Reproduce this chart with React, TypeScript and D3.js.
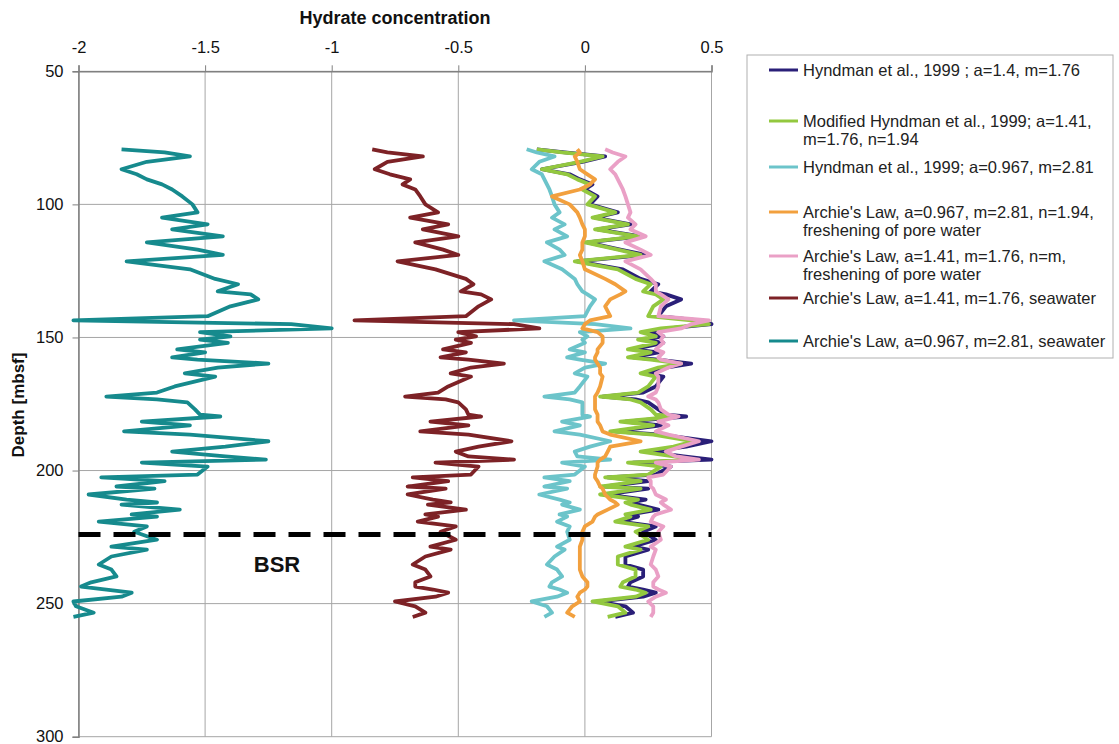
import { useEffect, useRef } from "react";
import * as d3 from "d3";

// depth samples (mbsf) shared by all the resistivity-derived curves
const depth = [
  79.3, 80.5, 82, 84, 86.8, 88.7, 90.6, 92.5, 94.4, 97,
  100, 103, 105, 107.5, 109.4, 112, 114.3, 117, 119, 121.4,
  124.4, 128, 130, 132.7, 133.8, 135.7, 138.3, 142, 143.6, 145,
  146.6, 148, 149.6, 150.8, 152, 154.5, 155.6, 157.5, 158.3, 159.8,
  161.3, 163.5, 164.7, 168.4, 170.7, 172.2, 173.3, 174.4, 177, 179,
  179.7, 181.6, 183, 185.3, 186.5, 189, 191, 192.9, 194.7, 195.9,
  197, 198.5, 201.5, 202.6, 204, 206, 206.8, 209, 210.9, 212,
  212.8, 214.7, 216.5, 217.3, 219.2, 221, 223, 226, 228.6, 229.7,
  232.3, 235.3, 237.2, 239.8, 242, 243.6, 244.7, 245.9, 247.4, 249.2,
  251, 253.4, 255,
];

// Hyndman et al., 1999 ; a=1.4, m=1.76
const hyndman14 = [
  -0.19, -0.08, 0.08, -0.01, -0.17, -0.06, -0.02, 0.03, 0.0, 0.05,
  0.02, 0.13, 0.04, 0.18, 0.05, 0.22, 0.01, 0.14, 0.24, -0.03,
  0.15, 0.22, 0.29, 0.26, 0.32, 0.38, 0.32, 0.29, 0.45, 0.5,
  0.33, 0.24, 0.31, 0.23, 0.31, 0.19, 0.29, 0.19, 0.29, 0.42,
  0.32, 0.24, 0.31, 0.28, 0.23, 0.07, 0.2, 0.25, 0.29, 0.32,
  0.4, 0.16, 0.3, 0.12, 0.3, 0.5, 0.4, 0.25, 0.39, 0.5,
  0.19, 0.34, 0.28, 0.09, 0.25, 0.08, 0.25, 0.08, 0.24, 0.18,
  0.21, 0.29, 0.18, 0.21, 0.14, 0.28, 0.23, 0.28, 0.19, 0.25,
  0.16, 0.16, 0.23, 0.23, 0.18, 0.17, 0.23, 0.28, 0.23, 0.05,
  0.16, 0.19, 0.12,
];

// Modified Hyndman et al., 1999
const modHyndman = [
  -0.19, -0.09, 0.07, -0.02, -0.17, -0.07, -0.03, 0.02, -0.01, 0.04,
  0.01, 0.12, 0.03, 0.17, 0.04, 0.21, 0.0, 0.13, 0.22, -0.04,
  0.13, 0.2, 0.26, 0.23, 0.28, 0.31, 0.27, 0.25, 0.42, 0.49,
  0.3, 0.22, 0.28, 0.21, 0.28, 0.17, 0.26, 0.17, 0.26, 0.38,
  0.29, 0.22, 0.28, 0.25, 0.21, 0.06, 0.18, 0.22, 0.26, 0.28,
  0.36, 0.14, 0.27, 0.1, 0.27, 0.43, 0.35, 0.22, 0.35, 0.43,
  0.17, 0.3, 0.25, 0.08, 0.22, 0.06, 0.22, 0.06, 0.21, 0.16,
  0.18, 0.26, 0.16, 0.18, 0.12, 0.25, 0.2, 0.25, 0.16, 0.22,
  0.13, 0.13, 0.2, 0.2, 0.15, 0.14, 0.2, 0.24, 0.2, 0.03,
  0.13, 0.16, 0.09,
];

// Hyndman et al., 1999; a=0.967, m=2.81
const hyndman0967 = [
  -0.23, -0.19, -0.12, -0.18, -0.21, -0.17, -0.16, -0.15, -0.14, -0.13,
  -0.12, -0.1, -0.13, -0.08, -0.12, -0.07, -0.15, -0.1, -0.08, -0.16,
  -0.09, -0.04, -0.03, -0.01, 0.01, 0.04, 0.02, 0.0, -0.28, 0.04,
  0.18, -0.02, 0.01, -0.01, 0.0, -0.06, 0.0, -0.07, -0.02, 0.08,
  0.0, -0.04, 0.01, -0.02, -0.04, -0.16, -0.06, -0.01, -0.01, -0.01,
  0.02, -0.09, -0.02, -0.12, -0.02, 0.1, 0.02, -0.04, -0.03, 0.1,
  -0.09, 0.0, -0.04, -0.16, -0.06, -0.16, -0.07, -0.18, -0.1, -0.06,
  -0.09, -0.02, -0.1, -0.07, -0.11, -0.06, -0.07, -0.06, -0.11, -0.08,
  -0.12, -0.15, -0.11, -0.09, -0.13, -0.14, -0.1, -0.07, -0.11, -0.21,
  -0.15, -0.13, -0.16,
];

// Archie's Law, a=0.967, m=2.81, n=1.94, freshening of pore water
const archieFresh0967 = [
  -0.03, -0.02, -0.04, -0.03, -0.02, 0.01, 0.04, 0.02, -0.02, -0.13,
  -0.06, -0.03, -0.02, -0.01, 0.0, 0.0, -0.01, -0.01, -0.02, -0.01,
  0.0, 0.08, 0.12, 0.16, 0.14, 0.1, 0.08, 0.1, 0.02, 0.0,
  -0.01, 0.05, 0.07, 0.07, 0.07, 0.05, 0.05, 0.04, 0.04, 0.05,
  0.06, 0.06, 0.07, 0.06, 0.05, 0.04, 0.04, 0.04, 0.04, 0.05,
  0.05, 0.05, 0.06, 0.07, 0.1, 0.22, 0.1, 0.09, 0.08, 0.06,
  0.05, 0.05, 0.04, 0.04, 0.05, 0.06, 0.07, 0.08, 0.1, 0.12,
  0.13, 0.09, 0.05, 0.04, 0.03, 0.0, -0.01, -0.01, -0.02, -0.02,
  -0.02, -0.02, -0.02, -0.01, 0.01, 0.01, 0.0, -0.02, -0.03, -0.02,
  -0.05, -0.07, -0.04,
];

// Archie's Law, a=1.41, m=1.76, n=m, freshening of pore water
const archieFresh141 = [
  0.08, 0.11, 0.16, 0.13, 0.1, 0.12, 0.13, 0.14, 0.15, 0.16,
  0.17, 0.18, 0.17, 0.2, 0.18, 0.24, 0.16, 0.22, 0.26, 0.16,
  0.22, 0.26, 0.28, 0.28, 0.3, 0.33, 0.3, 0.29, 0.49, 0.42,
  0.38, 0.29, 0.31, 0.3, 0.31, 0.28, 0.31, 0.29, 0.3, 0.38,
  0.33, 0.28, 0.29, 0.29, 0.28, 0.25, 0.28, 0.29, 0.3, 0.33,
  0.37, 0.29, 0.33, 0.28, 0.33, 0.45, 0.38, 0.32, 0.36, 0.45,
  0.28, 0.34, 0.31, 0.25, 0.26, 0.26, 0.27, 0.28, 0.32, 0.3,
  0.31, 0.34, 0.28, 0.27, 0.26, 0.31, 0.29, 0.3, 0.26, 0.28,
  0.27, 0.26, 0.28, 0.29, 0.27, 0.27, 0.29, 0.32, 0.28, 0.25,
  0.27, 0.27, 0.26,
];

// Archie's Law, a=1.41, m=1.76, seawater
const archieSea141 = [
  -0.84, -0.78, -0.64, -0.78, -0.83, -0.77, -0.69, -0.72, -0.67, -0.65,
  -0.63, -0.58, -0.69, -0.54, -0.64, -0.5, -0.67, -0.56, -0.5, -0.74,
  -0.59, -0.47, -0.44, -0.49, -0.41, -0.37, -0.42, -0.47, -0.91, -0.28,
  -0.18, -0.5, -0.43, -0.51, -0.45, -0.56, -0.47, -0.57, -0.46, -0.32,
  -0.45, -0.53, -0.45, -0.54, -0.58, -0.71, -0.55, -0.5, -0.47, -0.46,
  -0.41, -0.61, -0.46, -0.65, -0.46, -0.29, -0.42, -0.51, -0.46, -0.28,
  -0.59, -0.42, -0.45, -0.68, -0.54, -0.7, -0.55, -0.7, -0.6, -0.53,
  -0.62, -0.47, -0.63, -0.58, -0.66, -0.51, -0.57, -0.51, -0.61, -0.53,
  -0.63, -0.68, -0.63, -0.61, -0.67, -0.67, -0.6, -0.54, -0.59, -0.75,
  -0.67, -0.63, -0.68,
];

// Archie's Law, a=0.967, m=2.81, seawater
const archieSea0967 = [
  -1.83, -1.66, -1.56, -1.73, -1.83, -1.77, -1.73, -1.67, -1.63, -1.59,
  -1.55, -1.53, -1.67, -1.49, -1.63, -1.43, -1.73, -1.53, -1.43, -1.81,
  -1.56, -1.46, -1.37, -1.45, -1.32, -1.29, -1.4, -1.49, -2.02, -1.16,
  -1.0, -1.52, -1.4, -1.52, -1.41, -1.61, -1.5, -1.63, -1.53, -1.25,
  -1.45, -1.58, -1.46, -1.62, -1.69, -1.89, -1.69, -1.57, -1.54, -1.52,
  -1.44, -1.75, -1.56, -1.82, -1.56, -1.25, -1.42, -1.63, -1.42, -1.26,
  -1.75, -1.49, -1.53, -1.91, -1.66, -1.85, -1.7, -1.96, -1.81, -1.69,
  -1.83, -1.6, -1.79, -1.69, -1.92, -1.73, -1.78, -1.69, -1.87, -1.73,
  -1.87, -1.92, -1.87, -1.85, -1.95, -1.99, -1.89, -1.79, -1.83, -2.02,
  -2.01, -1.94, -2.02,
];

const xTicks = [-2, -1.5, -1, -0.5, 0, 0.5];
const yTicks = [50, 100, 150, 200, 250, 300];
const bsrDepth = 224;

const legendLabels = [
  ["Hyndman et al., 1999 ; a=1.4, m=1.76"],
  ["Modified Hyndman et al., 1999; a=1.41,", "m=1.76, n=1.94"],
  ["Hyndman et al., 1999; a=0.967, m=2.81"],
  ["Archie's Law, a=0.967, m=2.81, n=1.94,", "freshening of pore water"],
  ["Archie's Law, a=1.41, m=1.76, n=m,", "freshening of pore water"],
  ["Archie's Law, a=1.41, m=1.76, seawater"],
  ["Archie's Law, a=0.967, m=2.81, seawater"],
];

const seriesValues = [
  hyndman14,
  modHyndman,
  hyndman0967,
  archieFresh0967,
  archieFresh141,
  archieSea141,
  archieSea0967,
];

const seriesColors = ["#2a1f78", "#93c83f", "#6cc4ca", "#f2a03e", "#eaa0c6", "#7d2226", "#168a8d"];

const FONT = "'Liberation Sans', Arial, sans-serif";

const Chart = () => {
  const chartRef = useRef(null);

  useEffect(() => {
    const width = 1119;
    const height = 744;
    const plot = { left: 78.5, right: 711.5, top: 71.3, bottom: 736.7 };

    const svg = d3.select(chartRef.current);
    svg.selectAll("*").remove();
    svg.attr("width", width).attr("height", height).style("font-family", FONT);

    svg.append("rect").attr("width", width).attr("height", height).attr("fill", "#fff");

    const x = d3.scaleLinear().domain([-2, 0.5]).range([plot.left, plot.right]);
    const y = d3.scaleLinear().domain([50, 300]).range([plot.top, plot.bottom]);

    // gridlines
    const grid = svg.append("g").attr("stroke", "#a6a6a6").attr("stroke-width", 1);
    grid
      .selectAll("line.v")
      .data(xTicks)
      .join("line")
      .attr("x1", (d) => x(d))
      .attr("x2", (d) => x(d))
      .attr("y1", y(50))
      .attr("y2", y(300));
    grid
      .selectAll("line.h")
      .data(yTicks)
      .join("line")
      .attr("class", "h")
      .attr("x1", x(-2))
      .attr("x2", x(0.5))
      .attr("y1", (d) => y(d))
      .attr("y2", (d) => y(d));

    // top axis
    const xAxis = svg
      .append("g")
      .attr("transform", `translate(0,${plot.top})`)
      .call(d3.axisTop(x).tickValues(xTicks).tickSize(6).tickPadding(12).tickFormat((d) => String(d)));
    xAxis.select(".domain").attr("stroke", "#808080").attr("stroke-width", 1.5);
    xAxis.selectAll(".tick line").attr("stroke", "#808080");
    xAxis.selectAll("text").attr("font-size", 16.5).attr("fill", "#111").style("font-family", FONT);

    // left axis
    const yAxis = svg
      .append("g")
      .attr("transform", `translate(${plot.left},0)`)
      .call(d3.axisLeft(y).tickValues(yTicks).tickSize(6).tickPadding(9));
    yAxis.select(".domain").attr("stroke", "#808080").attr("stroke-width", 1.5);
    yAxis.selectAll(".tick line").attr("stroke", "#808080");
    yAxis.selectAll("text").attr("font-size", 16.5).attr("fill", "#111").style("font-family", FONT);

    // axis titles
    svg
      .append("text")
      .attr("x", (plot.left + plot.right) / 2)
      .attr("y", 24)
      .attr("text-anchor", "middle")
      .attr("font-weight", "bold")
      .attr("font-size", 18)
      .attr("fill", "#111")
      .text("Hydrate concentration");
    svg
      .append("text")
      .attr("transform", `translate(24,${405}) rotate(-90)`)
      .attr("text-anchor", "middle")
      .attr("font-weight", "bold")
      .attr("font-size", 17)
      .attr("fill", "#111")
      .text("Depth [mbsf]");

    // curves
    const line = d3
      .line()
      .x((d) => x(d[1]))
      .y((d) => y(d[0]));

    seriesValues.forEach((vals, i) => {
      svg
        .append("path")
        .datum(depth.map((dp, j) => [dp, vals[j]]))
        .attr("fill", "none")
        .attr("stroke", seriesColors[i])
        .attr("stroke-width", 3.8)
        .attr("stroke-linejoin", "round")
        .attr("d", line);
    });

    // BSR
    svg
      .append("line")
      .attr("x1", x(-2))
      .attr("x2", x(0.5))
      .attr("y1", y(bsrDepth))
      .attr("y2", y(bsrDepth))
      .attr("stroke", "#000")
      .attr("stroke-width", 5)
      .attr("stroke-dasharray", "22,13");
    svg
      .append("text")
      .attr("x", 277)
      .attr("y", y(bsrDepth) + 38)
      .attr("text-anchor", "middle")
      .attr("font-weight", "bold")
      .attr("font-size", 22)
      .attr("fill", "#111")
      .text("BSR");

    // legend
    const legendRowY = [70, 121, 167, 212, 256, 298, 341];
    const legend = svg.append("g");
    legend
      .append("rect")
      .attr("x", 747)
      .attr("y", 55)
      .attr("width", 366)
      .attr("height", 303)
      .attr("fill", "#fff")
      .attr("stroke", "#b0b0b0");
    legendLabels.forEach((lines, i) => {
      const ly = legendRowY[i];
      legend
        .append("line")
        .attr("x1", 769)
        .attr("x2", 798)
        .attr("y1", ly)
        .attr("y2", ly)
        .attr("stroke", seriesColors[i])
        .attr("stroke-width", 3);
      lines.forEach((t, k) => {
        legend
          .append("text")
          .attr("x", 803)
          .attr("y", ly + k * 18.5)
          .attr("dy", "0.35em")
          .attr("font-size", 16.5)
          .attr("fill", "#222")
          .text(t);
      });
    });
  }, []);

  return <svg ref={chartRef} style={{ position: "absolute", left: 0, top: 0 }}></svg>;
};

export default function App() {
  return <Chart />;
}
